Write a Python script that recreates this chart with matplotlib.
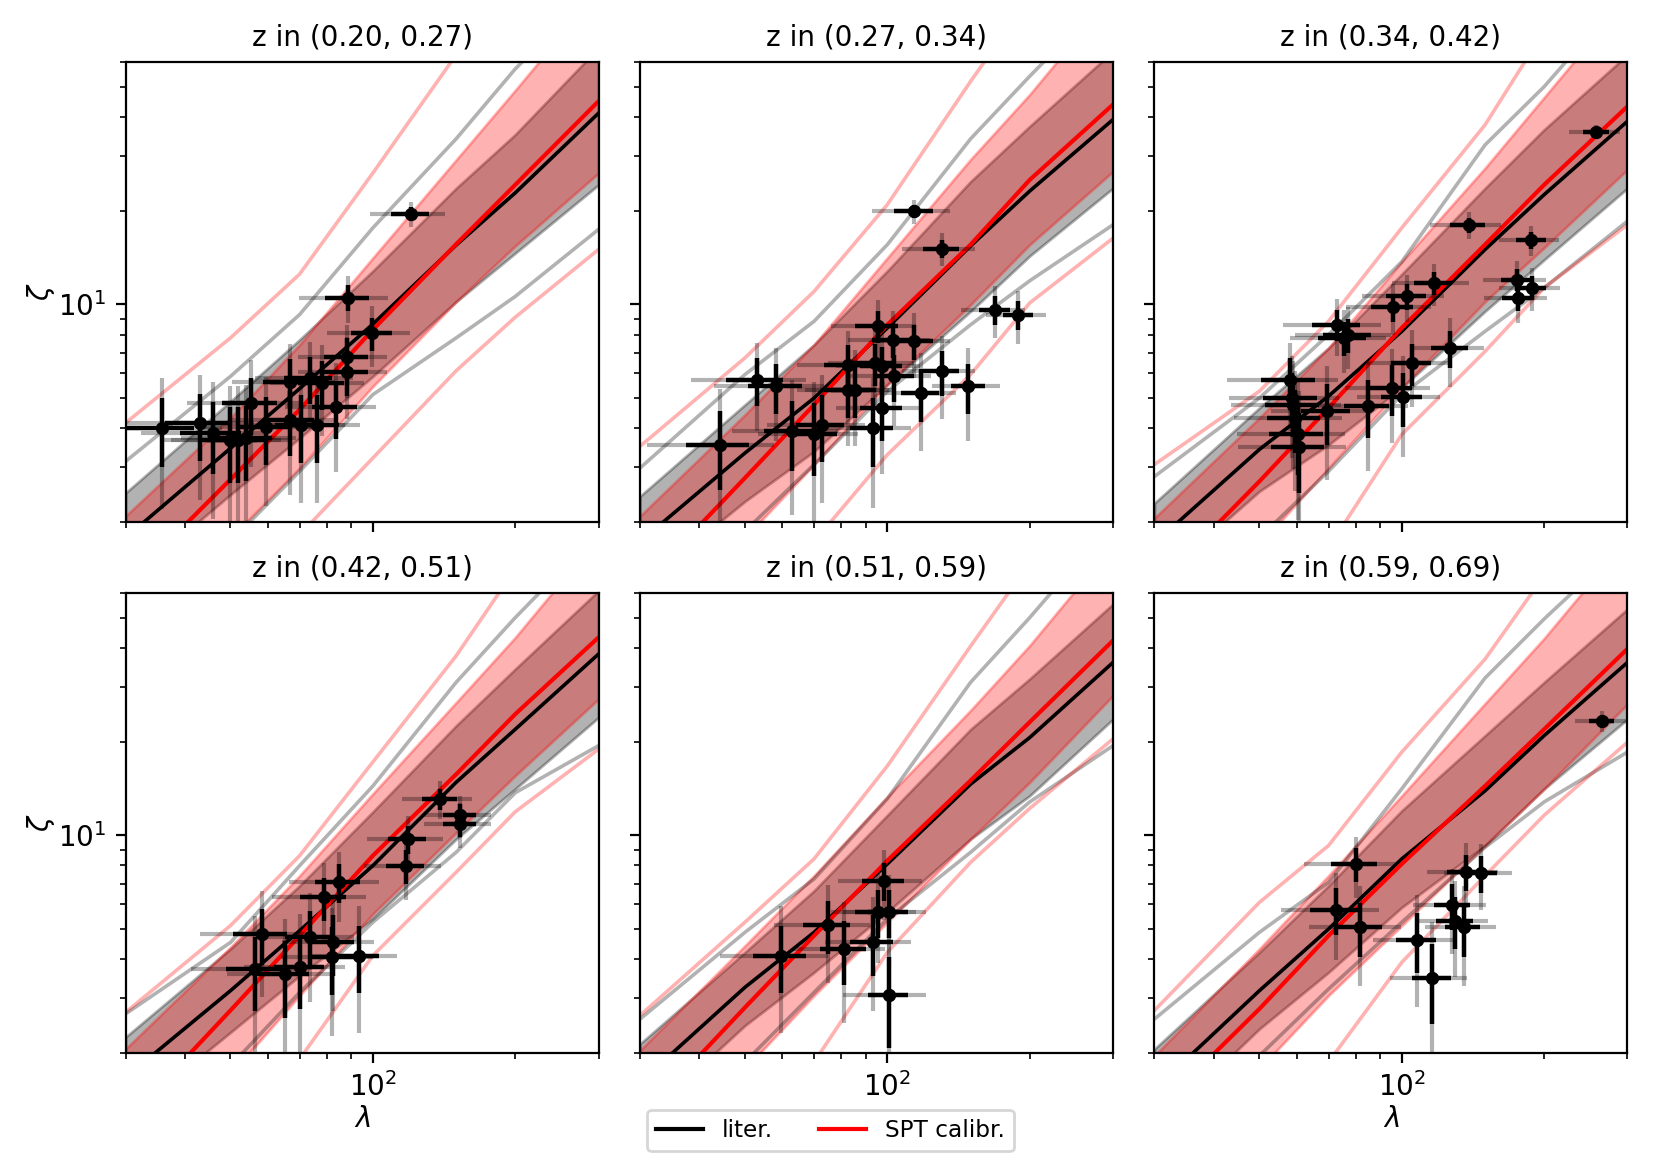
import matplotlib
matplotlib.use("Agg")
import matplotlib.pyplot as plt
from matplotlib.ticker import NullFormatter
from matplotlib.lines import Line2D

# ---------------- data ----------------
z_bins = ["(0.20, 0.27)", "(0.27, 0.34)", "(0.34, 0.42)",
          "(0.42, 0.51)", "(0.51, 0.59)", "(0.59, 0.69)"]

lam_grid = [30, 50, 70, 100, 150, 200, 300]

# literature relation: median, 1-sigma band, outer band
lit_med = [
    [1.78, 3.45, 5.36, 8.64, 15.5, 22.8, 41.1],
    [1.73, 3.33, 5.00, 8.40, 15.4, 23.1, 39.2],
    [1.71, 3.42, 5.07, 8.19, 15.0, 22.5, 38.7],
    [1.67, 3.17, 4.94, 7.99, 14.8, 21.9, 38.2],
    [1.61, 3.25, 4.88, 8.09, 14.6, 20.6, 35.9],
    [1.53, 3.17, 5.00, 8.40, 13.9, 20.9, 35.9],
]
lit_hi = [
    [2.48, 4.88, 7.70, 12.8, 23.6, 35.1, 66.6],
    [2.42, 4.76, 7.42, 12.8, 24.8, 37.3, 64.9],
    [2.30, 4.65, 7.24, 12.5, 23.6, 36.4, 63.3],
    [2.25, 4.32, 6.89, 11.9, 22.5, 34.2, 61.0],
    [2.14, 4.21, 6.64, 11.6, 21.9, 31.8, 55.3],
    [2.06, 4.21, 6.89, 12.0, 20.9, 31.0, 53.3],
]
lit_lo = [
    [1.27, 2.45, 3.72, 5.87, 10.2, 14.6, 24.2],
    [1.24, 2.33, 3.37, 5.52, 9.50, 14.3, 23.6],
    [1.27, 2.51, 3.54, 5.39, 9.50, 13.9, 23.6],
    [1.24, 2.33, 3.54, 5.39, 9.73, 14.1, 23.9],
    [1.20, 2.45, 3.63, 5.67, 9.73, 13.4, 23.6],
    [1.14, 2.39, 3.63, 5.87, 9.27, 14.1, 23.6],
]
lit_out_hi = [
    [3.13, 5.87, 9.27, 17.6, 34.0, 57.0, 105.0],
    [2.98, 5.95, 8.82, 15.55, 34.0, 54.0, 101.0],
    [2.80, 5.00, 7.99, 13.7, 32.5, 50.0, 101.0],
    [2.67, 4.53, 7.99, 14.4, 31.0, 50.0, 94.0],
    [2.57, 4.88, 7.24, 13.1, 31.0, 50.0, 102.0],
    [2.57, 4.88, 7.06, 14.1, 32.0, 49.5, 88.0],
]
lit_out_lo = [
    [0.89, 1.73, 2.91, 5.13, 7.80, 10.6, 17.4],
    [0.89, 1.87, 3.06, 5.26, 8.60, 11.9, 18.0],
    [0.81, 1.78, 2.91, 5.13, 8.19, 11.3, 18.5],
    [0.77, 1.82, 3.13, 5.26, 8.82, 13.7, 19.4],
    [0.83, 1.87, 3.13, 5.39, 8.82, 12.8, 19.4],
    [0.77, 1.96, 3.21, 5.26, 9.15, 12.8, 18.5],
]

# SPT calibrated relation: median, 1-sigma band, outer band
spt_med = [
    [1.26, 2.74, 4.59, 8.29, 15.6, 24.2, 44.9],
    [1.23, 2.77, 4.76, 8.60, 15.55, 25.1, 43.8],
    [1.23, 2.70, 4.65, 8.40, 15.55, 24.2, 43.2],
    [1.20, 2.74, 4.76, 8.60, 15.7, 24.5, 43.2],
    [1.23, 2.80, 4.76, 8.29, 15.0, 23.1, 42.2],
    [1.29, 2.77, 4.76, 8.09, 14.4, 21.9, 39.7],
]
spt_hi = [
    [2.09, 4.32, 7.42, 14.1, 29.1, 48.7, 102.0],
    [2.09, 4.42, 7.42, 14.1, 29.2, 47.2, 99.2],
    [2.06, 4.32, 7.24, 13.7, 27.4, 46.2, 96.8],
    [2.06, 4.37, 7.42, 13.6, 26.7, 43.2, 90.8],
    [2.04, 4.42, 7.42, 13.3, 25.2, 40.7, 85.6],
    [1.96, 4.32, 7.42, 13.4, 26.5, 42.9, 89.9],
]
spt_lo = [
    [0.75, 1.78, 2.98, 5.45, 10.2, 15.4, 26.4],
    [0.73, 1.78, 3.06, 5.52, 9.98, 15.55, 26.7],
    [0.73, 1.69, 2.98, 5.39, 10.2, 15.2, 27.1],
    [0.71, 1.71, 3.06, 5.59, 10.2, 15.55, 27.4],
    [0.73, 1.78, 3.06, 5.26, 9.73, 14.8, 28.1],
    [0.85, 1.78, 3.06, 5.13, 9.27, 14.1, 26.4],
]
spt_out_hi = [
    [4.16, 7.80, 12.5, 26.4, 63.3, 101.0, 202.0],
    [3.50, 6.73, 11.0, 20.9, 52.0, 96.3, 202.0],
    [3.06, 5.26, 8.82, 17.6, 37.7, 75.3, 166.0],
    [2.70, 5.13, 8.60, 17.2, 37.7, 71.6, 158.0],
    [2.64, 5.26, 8.40, 16.7, 40.5, 74.9, 178.0],
    [2.74, 6.09, 9.27, 18.5, 36.8, 68.2, 136.0],
]
spt_out_lo = [
    [0.47, 1.06, 1.82, 3.21, 6.12, 9.09, 15.0],
    [0.40, 0.94, 1.73, 3.29, 5.95, 10.1, 16.3],
    [0.40, 0.94, 1.65, 3.82, 7.06, 11.3, 18.0],
    [0.45, 1.09, 1.91, 4.11, 7.61, 11.9, 18.9],
    [0.40, 0.98, 1.87, 4.21, 8.19, 12.2, 20.4],
    [0.40, 0.94, 1.87, 3.91, 7.42, 11.6, 19.9],
]

# observed clusters
lam_obs = [
    [35.9, 43.0, 45.9, 49.8, 51.9, 54.0, 55.3, 59.3, 66.7, 66.7, 70.6, 73.5,
     76.2, 78.2, 83.4, 88.3, 88.3, 88.6, 99.8, 120.3],
    [44.3, 52.9, 58.3, 62.8, 70.0, 72.6, 82.7, 82.7, 85.4, 93.1, 94.2, 95.4,
     97.6, 97.6, 103.0, 103.5, 114.0, 117.8, 130.3, 148.4, 169.0, 189.3, 130.3, 114.0],
    [58.0, 58.5, 59.0, 59.5, 60.3, 60.7, 69.6, 73.1, 75.3, 77.1, 84.8, 95.2,
     95.7, 100.5, 102.6, 105.0, 116.9, 126.6, 138.4, 175.1, 176.0, 188.4, 187.7, 257.7],
    [56.3, 58.3, 65.3, 70.3, 73.8, 79.0, 82.0, 82.3, 84.8, 93.4, 117.3, 118.8,
     138.6, 152.8, 152.8],
    [59.6, 74.8, 81.1, 93.1, 95.4, 98.5, 100.8, 100.8],
    [72.6, 79.9, 81.6, 107.8, 116.1, 128.0, 129.7, 135.1, 136.6, 146.9, 264.9],
]
zeta_obs = [
    [4.00, 4.15, 3.85, 3.67, 3.67, 3.71, 4.81, 4.05, 5.65, 4.25, 4.10, 5.79,
     4.10, 5.58, 4.69, 6.08, 6.79, 10.5, 8.07, 19.5],
    [3.54, 5.73, 5.45, 3.91, 3.82, 4.11, 6.40, 5.32, 5.32, 4.01, 6.48, 8.50,
     4.65, 6.32, 7.70, 5.87, 7.61, 5.19, 6.09, 5.45, 9.61, 9.26, 15.1, 19.9],
    [5.73, 5.00, 4.76, 4.32, 3.83, 3.47, 4.53, 8.60, 7.80, 7.99, 4.71, 5.39,
     9.78, 5.03, 10.6, 6.48, 11.7, 7.24, 18.0, 12.0, 10.5, 11.3, 16.1, 35.8],
    [3.72, 4.82, 3.59, 3.77, 4.71, 6.32, 4.06, 4.53, 7.07, 4.11, 7.99, 9.73,
     13.1, 11.6, 10.9],
    [4.11, 5.15, 4.30, 4.53, 5.69, 7.15, 5.67, 3.07],
    [5.77, 8.09, 5.07, 4.61, 3.47, 5.97, 5.32, 5.07, 7.64, 7.55, 23.2],
]
lam_err = [
    [6.0, 6.6, 6.8, 7.1, 7.2, 7.3, 7.4, 7.7, 8.2, 8.2, 8.4, 8.6, 8.7, 8.8, 9.1,
     9.4, 9.4, 9.4, 10.0, 11.0],
    [6.7, 7.3, 7.6, 7.9, 8.4, 8.5, 9.1, 9.1, 9.2, 9.6, 9.7, 9.8, 9.9, 9.9, 10.1,
     10.2, 10.7, 10.9, 11.4, 12.2, 13.0, 13.8, 11.4, 10.7],
    [7.6, 7.6, 7.7, 7.7, 7.8, 7.8, 8.3, 8.5, 8.7, 8.8, 9.2, 9.8, 9.8, 10.0, 10.1,
     10.2, 10.8, 11.3, 11.8, 13.2, 13.3, 13.7, 13.7, 16.1],
    [7.5, 7.6, 8.1, 8.4, 8.6, 8.9, 9.1, 9.1, 9.2, 9.7, 10.8, 10.9, 11.8, 12.4, 12.4],
    [7.7, 8.6, 9.0, 9.6, 9.8, 9.9, 10.0, 10.0],
    [8.5, 8.9, 9.0, 10.4, 10.8, 11.3, 11.4, 11.6, 11.7, 12.1, 16.3],
]
lam_err_tot = [
    [12.0, 13.1, 13.5, 14.1, 14.4, 14.7, 14.9, 15.4, 16.3, 16.3, 16.8, 17.1, 17.5,
     17.7, 18.3, 18.8, 18.8, 18.8, 20.0, 21.9],
    [13.3, 14.5, 15.3, 15.8, 16.7, 17.0, 18.2, 18.2, 18.5, 19.3, 19.4, 19.5, 19.8,
     19.8, 20.3, 20.3, 21.4, 21.7, 22.8, 24.4, 26.0, 27.5, 22.8, 21.4],
    [15.2, 15.3, 15.4, 15.4, 15.5, 15.6, 16.7, 17.1, 17.4, 17.6, 18.4, 19.5, 19.6,
     20.0, 20.3, 20.5, 21.6, 22.5, 23.5, 26.5, 26.5, 27.5, 27.4, 32.1],
    [15.0, 15.3, 16.2, 16.8, 17.2, 17.8, 18.1, 18.1, 18.4, 19.3, 21.7, 21.8, 23.5,
     24.7, 24.7],
    [15.4, 17.3, 18.0, 19.3, 19.5, 19.8, 20.1, 20.1],
    [17.0, 17.9, 18.1, 20.8, 21.5, 22.6, 22.8, 23.2, 23.4, 24.2, 32.6],
]
zeta_err = 1.0
zeta_err_tot = 1.8

# ---------------- figure ----------------
fig, axes = plt.subplots(2, 3, figsize=(1661 / 200, 1163 / 200), dpi=200,
                         sharex=True, sharey=True)
fig.subplots_adjust(left=0.0756, right=0.9798, bottom=0.0946, top=0.9467,
                    wspace=0.0877, hspace=0.1543)

for i, ax in enumerate(axes.flat):
    ax.set_xscale("log")
    ax.set_yscale("log")
    ax.fill_between(lam_grid, lit_lo[i], lit_hi[i], color="k", alpha=0.3)
    ax.fill_between(lam_grid, spt_lo[i], spt_hi[i], color="r", alpha=0.3)
    ax.plot(lam_grid, lit_out_hi[i], color="k", alpha=0.3, lw=1.3)
    ax.plot(lam_grid, lit_out_lo[i], color="k", alpha=0.3, lw=1.3)
    ax.plot(lam_grid, spt_out_hi[i], color="r", alpha=0.3, lw=1.3)
    ax.plot(lam_grid, spt_out_lo[i], color="r", alpha=0.3, lw=1.3)
    ax.plot(lam_grid, lit_med[i], color="k", lw=1.3)
    ax.plot(lam_grid, spt_med[i], color="r", lw=1.5)
    ax.errorbar(lam_obs[i], zeta_obs[i], xerr=lam_err_tot[i], yerr=zeta_err_tot,
                fmt="none", ecolor="k", alpha=0.3, elinewidth=1.5)
    ax.errorbar(lam_obs[i], zeta_obs[i], xerr=lam_err[i], yerr=zeta_err,
                fmt="o", color="k", ms=3.8, elinewidth=1.6)
    ax.set_xlim(30, 300)
    ax.set_ylim(2, 60)
    ax.set_title("z in " + z_bins[i], fontsize=10)
    ax.xaxis.set_minor_formatter(NullFormatter())
    ax.yaxis.set_minor_formatter(NullFormatter())

for ax in (axes[0, 0], axes[1, 0]):
    ax.set_ylabel(r"$\zeta$")
    ax.yaxis.set_label_coords(-0.145, 0.5)
axes[1, 0].set_xlabel(r"$\lambda$", labelpad=1)
axes[1, 2].set_xlabel(r"$\lambda$", labelpad=1)

handles = [Line2D([], [], color="k", lw=1.5), Line2D([], [], color="r", lw=1.5)]
fig.legend(handles, ["liter.", "SPT calibr."], loc="lower center", ncol=2,
           fontsize=8.4)

fig.savefig("out.png", dpi=200)
